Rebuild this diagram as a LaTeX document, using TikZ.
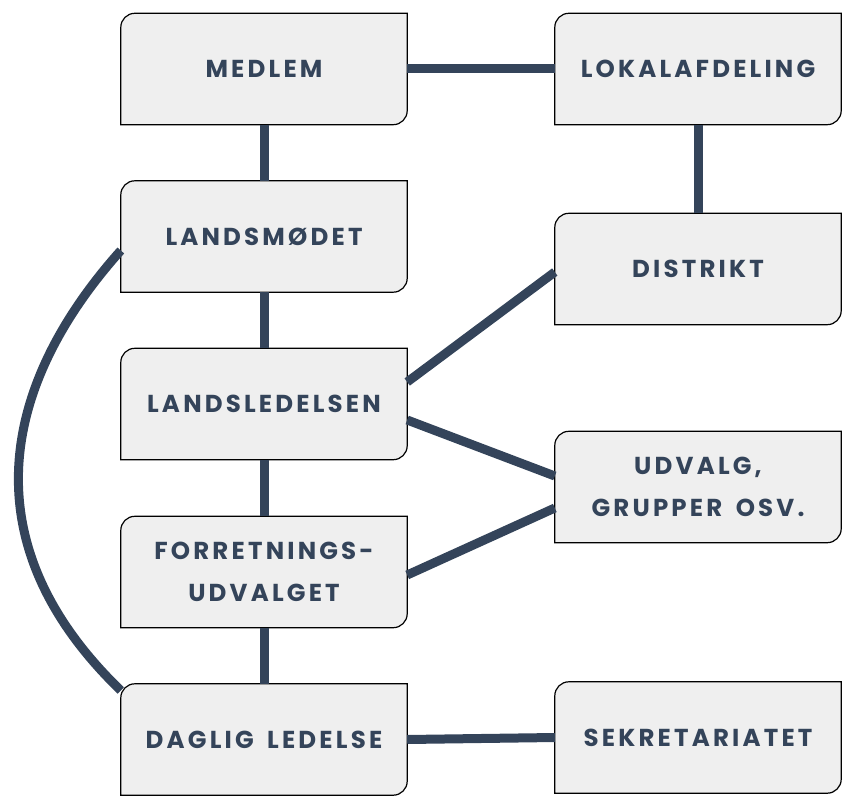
\documentclass[tikz,border=0pt]{standalone}
\usepackage{fontspec}
\newfontfamily\boxfont[LetterSpace=13,WordSpace=1.6]{Poppins Bold}
\usetikzlibrary{backgrounds}
\definecolor{ink}{HTML}{34445A}
\definecolor{boxfill}{HTML}{EFEFEF}
\tikzset{
  org/.style={minimum width=286pt,minimum height=111pt,inner sep=0pt,align=center,
    font=\boxfont\fontsize{24.5}{42}\selectfont,text=ink},
  link/.style={draw=ink,line width=9pt},
}
\newcommand\orgbox[4]{%
  \node[org] (#1) at (#2,#3) {#4};
  \begin{scope}[on background layer]
  \draw[fill=boxfill,line width=1.2pt] (#1.west) {[rounded corners=14pt] -- (#1.north west) -- (#1.north)} -- (#1.north east) -- (#1.east) {[rounded corners=14pt] -- (#1.south east) -- (#1.south)} -- (#1.south west) -- cycle;
  \end{scope}}
\begin{document}
\begin{tikzpicture}[x=1pt,y=-1pt]
\useasboundingbox (0,0) rectangle (859,802);
\orgbox{M}{264}{69}{MEDLEM}
\orgbox{L}{264}{236.5}{LANDSMØDET}
\orgbox{LL}{264}{404}{LANDSLEDELSEN}
\orgbox{F}{264}{572}{FORRETNINGS-\\UDVALGET}
\orgbox{D}{264}{739.5}{DAGLIG LEDELSE}
\orgbox{K}{698}{69}{LOKALAFDELING}
\orgbox{DI}{698}{269}{DISTRIKT}
\orgbox{U}{698}{487}{UDVALG,\\GRUPPER OSV.}
\orgbox{S}{698}{737.5}{SEKRETARIATET}
\draw[link] (M.east) -- (K.west);
\draw[link] (M.south) -- (L.north);
\draw[link] (L.south) -- (LL.north);
\draw[link] (LL.south) -- (F.north);
\draw[link] (F.south) -- (D.north);
\draw[link] (K.south) -- (DI.north);
\draw[link] ([yshift=22pt]LL.east) -- ([yshift=-3pt]DI.west);
\draw[link] ([yshift=-16pt]LL.east) -- ([yshift=11pt]U.west);
\draw[link] ([yshift=-3pt]F.east) -- ([yshift=-21pt]U.west);
\draw[link] (D.east) -- (S.west);
\draw[link] ([yshift=-14pt]L.west) .. controls (5,380) and (-35,540) .. ([yshift=49pt]D.west);
\end{tikzpicture}
\end{document}
